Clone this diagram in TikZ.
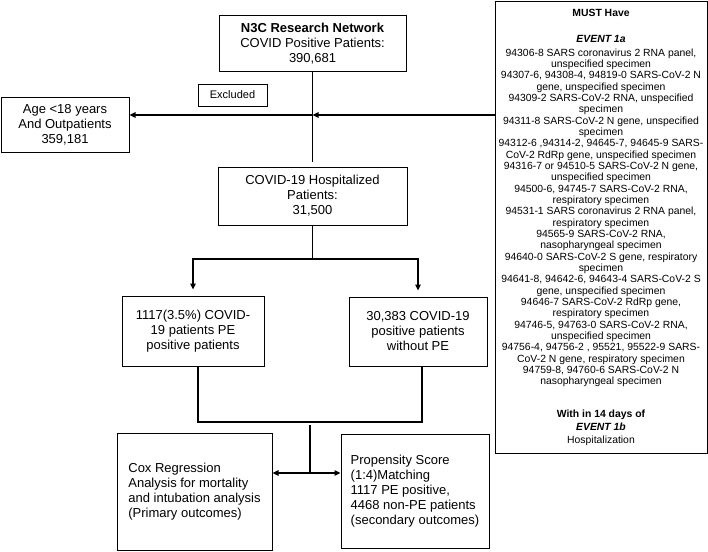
\documentclass[tikz,border=0pt]{standalone}
\usepackage{fontspec}
\setmainfont{Liberation Sans}
\usetikzlibrary{arrows.meta}
\begin{document}
\begin{tikzpicture}[x=1pt,y=-1pt,
  box/.style={draw,line width=1pt,inner sep=0pt,align=center,font=\fontsize{13}{15}\selectfont},
  line/.style={line width=1.3pt},
  arr/.style={line width=1.3pt,-{Triangle[length=6pt,width=5.5pt]}}]
\useasboundingbox (0,0) rectangle (708,551);
\node[box,minimum width=187pt,minimum height=55pt] (n3c) at (312.5,43.5) {\textbf{N3C Research Network}\\COVID Positive Patients:\\390,681};
\node[box,minimum width=69pt,minimum height=22pt,font=\fontsize{11}{13}\selectfont] (excl) at (232.5,95) {Excluded};
\node[box,minimum width=128pt,minimum height=55pt] (age) at (65,124.5) {Age <18 years\\And Outpatients\\359,181};
\node[box,minimum width=189pt,minimum height=58pt] (hosp) at (312.5,196) {COVID-19 Hospitalized\\Patients:\\31,500};
\node[box,minimum width=142pt,minimum height=70pt] (pe) at (193,331) {1117(3.5\%) COVID-\\19 patients PE\\positive patients};
\node[box,minimum width=138pt,minimum height=69pt] (npe) at (418,331.5) {30,383 COVID-19\\positive patients\\without PE};
\node[box,minimum width=155pt,minimum height=117pt,align=left] (cox) at (194.5,491.5) {Cox Regression\\Analysis for mortality\\and intubation analysis\\(Primary outcomes)};
\node[box,minimum width=148pt,minimum height=114pt,align=left] (ps) at (415,491) {Propensity Score\\(1:4)Matching\\1117 PE positive,\\4468 non-PE patients\\(secondary outcomes)};
\node[box,minimum width=212pt,minimum height=451pt,font=\fontsize{10.4}{11.33}\selectfont] (must) at (601,227.5) {%
\textbf{MUST Have}\\[14.67pt]
\textbf{\textit{EVENT 1a}}\\[2.67pt]
94306-8 SARS coronavirus 2 RNA panel,\\
unspecified specimen\\
94307-6, 94308-4, 94819-0 SARS-CoV-2 N\\
gene, unspecified specimen\\
94309-2 SARS-CoV-2 RNA, unspecified\\
specimen\\
94311-8 SARS-CoV-2 N gene, unspecified\\
specimen\\
94312-6 ,94314-2, 94645-7, 94645-9 SARS-\\
CoV-2 RdRp gene, unspecified specimen\\
94316-7 or 94510-5 SARS-CoV-2 N gene,\\
unspecified specimen\\
94500-6, 94745-7 SARS-CoV-2 RNA,\\
respiratory specimen\\
94531-1 SARS coronavirus 2 RNA panel,\\
respiratory specimen\\
94565-9 SARS-CoV-2 RNA,\\
nasopharyngeal specimen\\
94640-0 SARS-CoV-2 S gene, respiratory\\
specimen\\
94641-8, 94642-6, 94643-4 SARS-CoV-2 S\\
gene, unspecified specimen\\
94646-7 SARS-CoV-2 RdRp gene,\\
respiratory specimen\\
94746-5, 94763-0 SARS-CoV-2 RNA,\\
unspecified specimen\\
94756-4, 94756-2 , 95521, 95522-9 SARS-\\
CoV-2 N gene, respiratory specimen\\
94759-8, 94760-6 SARS-CoV-2 N\\
nasopharyngeal specimen\\[21.67pt]
\textbf{With in 14 days of}\\[1.67pt]
\textbf{\textit{EVENT 1b}}\\[1.67pt]
Hospitalization};
% connectors
\coordinate (j1) at (312.5,115);
\coordinate (j2) at (312.5,259);
\coordinate (j3) at (310,422);
\coordinate (j4) at (310,473);
\draw[line] (n3c.south) -- ([yshift=5pt]hosp.north);
\draw[arr] (must.west |- j1) -- (j1);
\draw[arr] (j1) -- (age.east |- j1);
\draw[line] (hosp.south) -- (j2);
\draw[arr] (j2) -| ([yshift=6pt]pe.north);
\draw[arr] (j2) -| ([yshift=6pt]npe.north);
\draw[line] ([xshift=5pt]pe.south) -- ([xshift=5pt]pe.south |- j3) -- ([xshift=4pt]npe.south |- j3) -- ([xshift=4pt]npe.south);
\draw[line] ([yshift=-3pt]j3) -- (j4);
\draw[arr] (j4) -- (cox.east |- j4);
\draw[arr] (j4) -- (ps.west |- j4);
\end{tikzpicture}
\end{document}
